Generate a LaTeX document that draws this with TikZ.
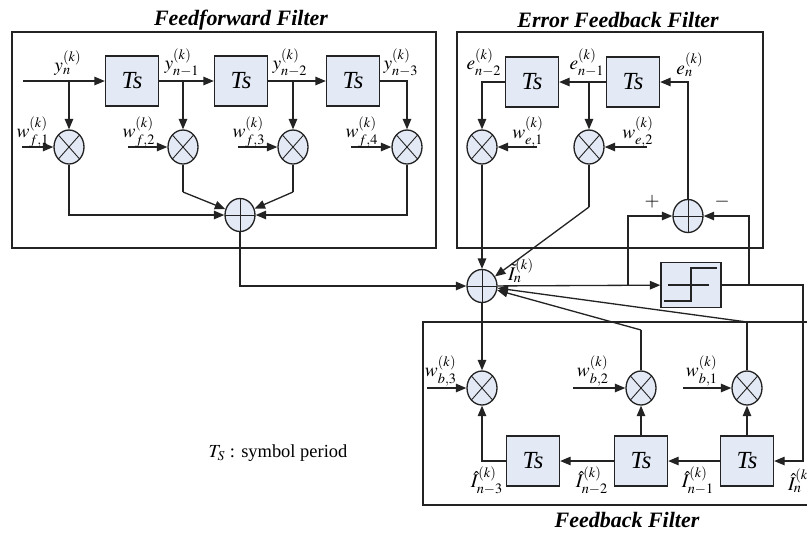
\documentclass[tikz,border=0pt]{standalone}
\usepackage{mathptmx}
\usepackage{fontspec}
\setmainfont{Liberation Serif}
\usepackage{tikz}
\usetikzlibrary{arrows.meta,shapes.geometric}
\definecolor{blockfill}{RGB}{227,234,245}
\definecolor{linegray}{RGB}{35,35,35}

\begin{document}
\begin{tikzpicture}[x=0.02cm, y=-0.02cm, line width=0.75pt, draw=linegray,
    >={Triangle[length=0.21cm,width=0.17cm]}]
        \tikzstyle{delay}=[draw=linegray, fill=blockfill, minimum width=1.06cm, minimum height=1cm, inner sep=0pt, font=\itshape\fontsize{14}{16}\selectfont]
        \tikzstyle{mult}=[ellipse, draw=linegray, fill=blockfill, minimum width=0.6cm, minimum height=0.68cm, inner sep=0pt,
            path picture={\draw[line width=0.5pt] (path picture bounding box.north west) -- (path picture bounding box.south east) (path picture bounding box.north east) -- (path picture bounding box.south west);}]
        \tikzstyle{adder}=[ellipse, draw=linegray, fill=blockfill, minimum width=0.6cm, minimum height=0.66cm, inner sep=0pt,
            path picture={\draw[line width=0.5pt] (path picture bounding box.north) -- (path picture bounding box.south) (path picture bounding box.west) -- (path picture bounding box.east);}]
        \tikzstyle{slicer}=[draw=linegray, fill=blockfill, minimum width=1.2cm, minimum height=0.9cm, inner sep=0pt]
        \tikzstyle{frame}=[draw=linegray, line width=0.8pt]
        \tikzstyle{title}=[inner sep=0pt, font=\bfseries\itshape\fontsize{12.5}{14}\selectfont]
        \tikzstyle{lbl}=[inner sep=0pt, font=\fontsize{11}{13}\selectfont]

        \useasboundingbox (0,0) rectangle (807,535);
        \clip (0,0) rectangle (807,535);

        % Frames
        \draw[frame] (12,32) rectangle (436,248);
        \draw[frame] (457,32) rectangle (763,248);
        \draw[frame] (423,322) rectangle (820,505);

        \node at (241,20) [title] (fftitle) {Feedforward Filter};
        \node at (618,20) [title] (eftitle) {Error Feedback Filter};
        \node at (627,520) [title] (fbtitle) {Feedback Filter};

        % Feedforward
        \node at (132,81) [delay] (d1) {Ts};
        \node at (241,81) [delay] (d2) {Ts};
        \node at (353,81) [delay] (d3) {Ts};

        \node at (69,147) [mult] (m1) {};
        \node at (183,147) [mult] (m2) {};
        \node at (293,147) [mult] (m3) {};
        \node at (407,147) [mult] (m4) {};

        \node at (240,215) [adder] (ffsum) {};

        \node at (68,63) [lbl] (yl0) {$y_n^{(k)}$};
        \node at (182,63) [lbl] (yl1) {$y_{n-1}^{(k)}$};
        \node at (290,63) [lbl] (yl2) {$y_{n-2}^{(k)}$};
        \node at (401,63) [lbl] (yl3) {$y_{n-3}^{(k)}$};

        \coordinate (ffin) at (23,81);
        \draw [->] (ffin) -- (d1);
        \draw [->] (m1 |- d1) -- (m1);
        \draw [->] (d1) -- (d2);
        \draw [->] (m2 |- d1) -- (m2);
        \draw [->] (d2) -- (d3);
        \draw [->] (m3 |- d2) -- (m3);
        \draw [->] (d3.east) -| (m4);

        \foreach \i/\x in {1/22, 2/128, 3/238, 4/351} {
            \coordinate (wf\i) at (\x,147);
            \draw [->] (wf\i) -- (m\i);
            \node at (\x+11,132) [lbl] (wfl\i) {$w_{f,\i}^{(k)}$};
        }

        \draw [->] (m1) |- (ffsum);
        \draw (m2) -- ++(0,45) coordinate (k2);
        \draw [->] (k2) -- (ffsum);
        \draw (m3) -- ++(0,45) coordinate (k3);
        \draw [->] (k3) -- (ffsum);
        \draw [->] (m4) |- (ffsum);

        % Main sum and slicer
        \node at (482,286) [adder] (sum) {};
        \node at (691,285) [slicer] (slc) {};
        \draw[line width=0.6pt] ([shift={(-27,16)}]slc.center) -- ([shift={(0,16)}]slc.center) -- ([shift={(0,-17)}]slc.center) -- ([shift={(26,-17)}]slc.center);
        \draw[line width=0.6pt] ([shift={(-23,0)}]slc.center) -- ([shift={(18,0)}]slc.center);

        \node at (521,271) [lbl] (itl) {$\tilde{I}_n^{(k)}$};

        \draw [->] (ffsum) |- (sum);
        \draw [->] (sum) -- (slc);

        % Error feedback
        \node at (532,82) [delay] (ed1) {Ts};
        \node at (633,82) [delay] (ed2) {Ts};
        \node at (482,147) [mult] (em1) {};
        \node at (589,147) [mult] (em2) {};
        \node at (688,216) [adder] (esum) {};

        \node at (690,65) [lbl] (el0) {$e_n^{(k)}$};
        \node at (587,63) [lbl] (el1) {$e_{n-1}^{(k)}$};
        \node at (484,63) [lbl] (el2) {$e_{n-2}^{(k)}$};

        \draw [->] (esum) |- (ed2);
        \draw [->] (ed2) -- (ed1);
        \draw [->] (em2 |- ed1) -- (em2);
        \draw [->] (ed1.west) -| (em1);

        \foreach \i/\x in {1/537, 2/647} {
            \coordinate (we\i) at (\x,147);
            \draw [->] (we\i) -- (em\i);
            \node at (\x-9,132) [lbl] (wel\i) {$w_{e,\i}^{(k)}$};
        }

        \draw [->] (em1) -- (sum);
        \draw (em2) -- ++(0,60) coordinate (ek2);
        \draw [->] (ek2) -- (sum);

        \coordinate (br1) at (628,286);
        \coordinate (br2) at (749,285);
        \draw [->] (br1) |- (esum);
        \draw [->] (br2) |- (esum);
        \node at (652,202) [lbl] (plus) {$+$};
        \node at (722,202) [lbl] (minus) {$-$};

        % Feedback
        \node at (747,461) [delay] (fd1) {Ts};
        \node at (641,461) [delay] (fd2) {Ts};
        \node at (533,461) [delay] (fd3) {Ts};
        \node at (747,388) [mult] (fm1) {};
        \node at (641,388) [mult] (fm2) {};
        \node at (482,388) [mult] (fm3) {};

        \coordinate (fbc) at (803,461);
        \draw [->] (slc) -| (fbc) -- (fd1);
        \draw [->] (fd1) -- (fd2);
        \draw [->] (fd2) -- (fd3);
        \draw [->] (fd3) -| (fm3);
        \draw [->] (fd2) -- (fm2);
        \draw [->] (fd1) -- (fm1);

        \draw [->] (sum) -- (fm3);
        \draw (fm2) -- ++(0,-58) coordinate (bk2);
        \draw [->] (bk2) -- (sum);
        \draw (fm1) -- ++(0,-66) coordinate (bk1);
        \draw [->] (bk1) -- (sum);

        \foreach \i/\x/\lx in {1/683/702, 2/573/593, 3/427/441} {
            \coordinate (wb\i) at (\x,388);
            \draw [->] (wb\i) -- (fm\i);
            \node at (\lx,371) [lbl] (wbl\i) {$w_{b,\i}^{(k)}$};
        }

        \node at (801,481) [lbl] (il0) {$\hat{I}_n^{(k)}$};
        \node at (698,481) [lbl] (il1) {$\hat{I}_{n-1}^{(k)}$};
        \node at (592,481) [lbl] (il2) {$\hat{I}_{n-2}^{(k)}$};
        \node at (487,481) [lbl] (il3) {$\hat{I}_{n-3}^{(k)}$};

        % Note
        \node at (278,453) [inner sep=0pt, font=\fontsize{10.5}{12}\selectfont] (tsnote) {$T_S$ : symbol period};
\end{tikzpicture}
\end{document}
